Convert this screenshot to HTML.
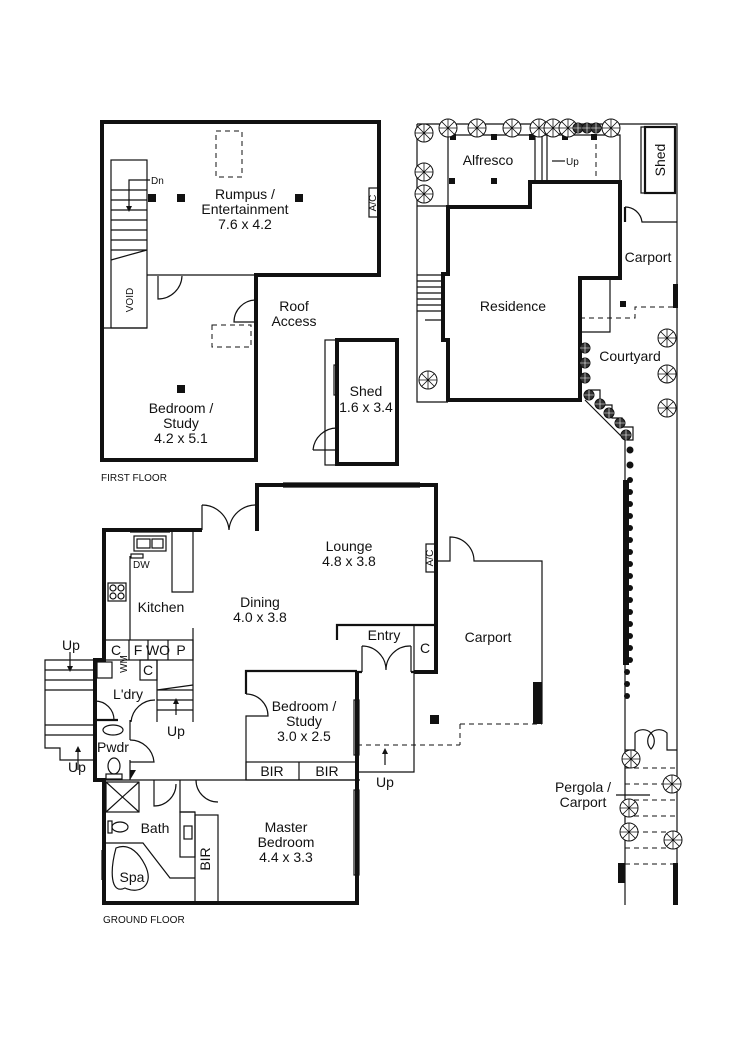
<!DOCTYPE html>
<html><head><meta charset="utf-8"><style>
html,body{margin:0;padding:0;background:#fff}
svg{display:block}
text{font-family:"Liberation Sans",Arial,sans-serif;fill:#111}
.r{font-size:14px;text-anchor:middle}
.s{font-size:10px}
.t{fill:none;stroke:#111;stroke-width:1.2}
.k{fill:none;stroke:#111;stroke-width:4}
.m{fill:none;stroke:#111;stroke-width:2.2}
.d{fill:none;stroke:#111;stroke-width:1;stroke-dasharray:5 4}
.tree{fill:#fff;stroke:#111;stroke-width:1}
</style></head><body>
<svg width="750" height="1061" viewBox="0 0 750 1061" xmlns="http://www.w3.org/2000/svg">
<defs>
<g id="tr"><circle r="9" class="tree"/><path d="M-9 0H9M0-9V9M-6.4-6.4L6.4 6.4M-6.4 6.4L6.4-6.4" stroke="#111" stroke-width="0.8"/></g>
<g id="ts"><circle r="5" fill="#333" stroke="#111"/><path d="M-5 0H5M0-5V5" stroke="#fff" stroke-width="0.6"/></g>
</defs>

<!-- FIRST FLOOR -->
<path class="k" d="M102 122H379V275H256V460H102Z"/>
<rect x="111" y="160" width="36" height="168" class="t"/>
<path class="t" d="M111 190H147M111 200H147M111 210H147M111 220H147M111 230H147M111 240H147M111 250H147M111 260L147 250"/>
<path class="t" d="M103 328H147M147 275H256"/>
<path class="t" d="M150 180H129V208"/><path d="M126 206L129 212L132 206Z" fill="#111"/>
<text x="151" y="184" class="s">Dn</text>
<text x="133" y="300" class="s" transform="rotate(-90 133 300)" text-anchor="middle">VOID</text>
<path class="t" d="M158 276V299A24 24 0 0 0 182 276"/>
<path class="t" d="M256 322H234A22 22 0 0 1 256 300"/>
<rect x="216" y="131" width="26" height="46" class="d"/>
<rect x="212" y="325" width="39" height="22" class="d"/>
<rect x="148" y="194" width="8" height="8" fill="#111"/>
<rect x="177" y="194" width="8" height="8" fill="#111"/>
<rect x="295" y="194" width="8" height="8" fill="#111"/>
<rect x="177" y="385" width="8" height="8" fill="#111"/>
<rect x="369" y="188" width="9" height="29" fill="#fff" class="t"/>
<text x="376" y="203" class="s" font-size="8" transform="rotate(-90 376 203)" text-anchor="middle">A/C</text>
<text class="r" x="245" y="199">Rumpus /</text>
<text class="r" x="245" y="214">Entertainment</text>
<text class="r" x="245" y="229">7.6 x 4.2</text>
<text class="r" x="181" y="413">Bedroom /</text>
<text class="r" x="181" y="428">Study</text>
<text class="r" x="181" y="443">4.2 x 5.1</text>
<text class="r" x="294" y="311">Roof</text>
<text class="r" x="294" y="326">Access</text>
<text x="101" y="481" class="s">FIRST FLOOR</text>
<!-- shed -->
<rect x="325" y="340" width="12" height="125" class="t"/>
<rect x="337" y="340" width="60" height="124" class="k"/>
<rect x="334" y="365" width="4" height="30" fill="#fff" class="t"/>
<path class="t" d="M313 450H337V428A24 24 0 0 0 313 450" fill="#fff"/>
<text class="r" x="366" y="396">Shed</text>
<text class="r" x="366" y="412">1.6 x 3.4</text>

<!-- GROUND FLOOR -->
<path class="k" d="M202 530H104V660H95V780H104V903H357V671"/>
<path class="k" d="M257 531V485H436V672H414"/>
<path class="t" d="M283 485H420" stroke="#fff" stroke-width="2"/>
<path class="t" d="M283 483H420M283 487H420"/>
<path class="t" d="M202 505V530M257 505V530M202 505A27 27 0 0 1 229 530A27 27 0 0 1 257 505"/>
<path class="m" d="M337 640V625H436"/>
<rect x="414" y="625" width="22" height="47" class="t"/>
<text x="425" y="653" class="r" font-size="13">C</text>
<path class="t" d="M362 672V646M411 672V646M362 646A24 24 0 0 1 386 670A24 24 0 0 1 411 646"/>
<path class="m" d="M357 672H362M411 672H414"/>
<text class="r" x="384" y="640">Entry</text>
<!-- kitchen -->
<path class="t" d="M130 530H170M130 532H170"/>
<rect x="134" y="536" width="32" height="15" class="t"/><rect x="137" y="539" width="13" height="9" class="t"/><rect x="152" y="539" width="11" height="9" class="t"/>
<rect x="131" y="554" width="12" height="4" class="t"/>
<text x="133" y="568" class="s" font-size="9">DW</text>
<path class="t" d="M130 556V640M172 530V592H193V530"/>
<rect x="108" y="583" width="18" height="18" class="t"/>
<circle cx="113" cy="588" r="3" class="t"/><circle cx="121" cy="588" r="3" class="t"/><circle cx="113" cy="596" r="3" class="t"/><circle cx="121" cy="596" r="3" class="t"/>
<text class="r" x="161" y="612">Kitchen</text>
<rect x="104" y="640" width="89" height="20" class="t"/>
<path class="t" d="M129 640V660M148 640V660M168 640V660M193 628V722"/>
<text x="116" y="655" class="r" font-size="12">C</text><text x="138" y="655" class="r" font-size="12">F</text>
<text x="158" y="655" class="r" font-size="10">WO</text><text x="181" y="655" class="r" font-size="12">P</text>
<!-- laundry -->
<rect x="97" y="662" width="15" height="16" class="t"/>
<text x="131" y="672" class="s" font-size="10" transform="rotate(-90 125 670)" text-anchor="middle">WM</text>
<rect x="140" y="660" width="17" height="20" class="t"/>
<text x="148" y="675" class="r" font-size="12">C</text>
<path class="t" d="M157 660V722M157 690H193M157 700H193M157 710H193M157 690L193 685"/>
<path class="t" d="M176 715V702"/><path d="M173 704L176 698L179 704Z" fill="#111"/>
<text x="176" y="736" class="r" font-size="10">Up</text>
<text class="r" x="128" y="699">L'dry</text>
<path class="t" d="M95 720H114A19 19 0 0 0 95 701"/>
<path class="t" d="M155 700A24 24 0 0 0 131 722V720"/>
<path class="m" d="M95 720H118"/>
<!-- powder -->
<path class="t" d="M130 720V740M130 760V780"/>
<path class="t" d="M130 740A24 24 0 0 1 154 762H130"/>
<ellipse cx="113" cy="730" rx="10" ry="5" class="t"/>
<ellipse cx="114" cy="766" rx="6" ry="8" class="t"/>
<rect x="106" y="774" width="16" height="5" class="t"/>
<text class="r" x="113" y="752">Pwdr</text>
<path d="M130 770H136L130 780Z" fill="#111"/>
<path class="t" d="M95 780H360"/>
<!-- outside stairs -->
<path class="t" d="M95 660H45V748H60V760H95M45 670H95M45 680H95M45 690H95M45 725H95M45 735H95"/>
<path class="t" d="M70 652V668M78 750V770"/><path d="M67 666L70 672L73 666Z" fill="#111"/><path d="M75 752L78 746L81 752Z" fill="#111"/>
<text x="71" y="650" class="r" font-size="10">Up</text>
<text x="77" y="772" class="r" font-size="10">Up</text>
<!-- bath -->
<rect x="106" y="782" width="33" height="30" class="t"/><path class="t" d="M106 782L139 812M139 782L106 812"/>
<path class="t" d="M154 780V806A22 22 0 0 0 176 784M180 780V812H195"/>
<path class="t" d="M218 802A22 22 0 0 1 196 780"/>
<ellipse cx="120" cy="827" rx="8" ry="5" class="t"/><rect x="108" y="821" width="4" height="12" class="t"/>
<text class="r" x="155" y="833">Bath</text>
<rect x="180" y="812" width="15" height="45" class="t"/><rect x="184" y="826" width="8" height="13" class="t"/>
<path class="t" d="M104 843H143L170 878H195"/>
<path class="t" d="M116 848C130 842 140 855 145 865C155 885 140 895 125 888C110 895 110 870 116 848Z"/>
<text class="r" x="132" y="882" font-size="12">Spa</text>
<path class="t" d="M102 850V880"/>
<rect x="195" y="815" width="23" height="88" class="t"/>
<text x="210" y="859" class="r" font-size="12" transform="rotate(-90 210 859)">BIR</text>
<!-- bed/study -->
<path class="m" d="M357 671H246V694"/><path class="t" d="M246 694A22 22 0 0 1 268 716H246V780"/>
<rect x="246" y="762" width="111" height="18" class="t"/><path class="t" d="M299 762V780"/>
<text x="272" y="776" class="r" font-size="12">BIR</text><text x="327" y="776" class="r" font-size="12">BIR</text>
<text class="r" x="304" y="711">Bedroom /</text><text class="r" x="304" y="726">Study</text><text class="r" x="304" y="741">3.0 x 2.5</text>
<rect x="354" y="700" width="5" height="55" fill="#fff" class="t"/>
<rect x="354" y="790" width="5" height="85" fill="#fff" class="t"/>
<text class="r" x="286" y="832">Master</text><text class="r" x="286" y="847">Bedroom</text><text class="r" x="286" y="862">4.4 x 3.3</text>
<text class="r" x="260" y="607">Dining</text><text class="r" x="260" y="622">4.0 x 3.8</text>
<text class="r" x="349" y="551">Lounge</text><text class="r" x="349" y="566">4.8 x 3.8</text>
<rect x="426" y="544" width="9" height="28" fill="#fff" class="t"/>
<text x="433" y="558" class="s" font-size="8" transform="rotate(-90 433 558)" text-anchor="middle">A/C</text>
<text x="103" y="923" class="s">GROUND FLOOR</text>
<!-- carport ground -->
<path class="t" d="M436 561H450V537A24 24 0 0 1 474 561H542V724"/>
<rect x="533" y="682" width="9" height="42" fill="#111"/>
<path class="d" d="M460 724H542M460 724V745M357 745H460"/>
<path class="t" d="M414 672V772H357"/>
<path class="t" d="M385 765V752"/><path d="M382 754L385 748L388 754Z" fill="#111"/>
<text x="385" y="787" class="r" font-size="10">Up</text>
<rect x="430" y="715" width="9" height="9" fill="#111"/>
<text class="r" x="488" y="642">Carport</text>

<!-- SITE PLAN -->
<path class="t" d="M417 124H677V905M417 124V402H448M417 206H448V135M448 135H620V182"/>
<path class="k" d="M448 207H530V182H620V278H580V400H448V340H443V274H448Z"/>
<path class="t" d="M535 135V182M542 135V182M547 135V182"/>
<path class="d" d="M596 135V182"/>
<path class="t" d="M565 161H552"/>
<text x="566" y="165" class="s" font-size="9">Up</text>
<text class="r" x="488" y="165">Alfresco</text>
<text class="r" x="513" y="311">Residence</text>
<rect x="450" y="134" width="6" height="6" fill="#111"/><rect x="491" y="134" width="6" height="6" fill="#111"/><rect x="529" y="134" width="6" height="6" fill="#111"/>
<rect x="562" y="134" width="6" height="6" fill="#111"/><rect x="591" y="134" width="6" height="6" fill="#111"/>
<rect x="449" y="178" width="6" height="6" fill="#111"/><rect x="491" y="178" width="6" height="6" fill="#111"/>
<path class="t" d="M417 275H443M417 281H443M417 287H443M417 293H443M417 299H443M417 305H443M417 311H443M425 320H443"/>
<rect x="641" y="127" width="4" height="66" class="t"/>
<rect x="645" y="127" width="30" height="66" class="m"/>
<text x="665" y="160" class="r" font-size="13" transform="rotate(-90 665 160)">Shed</text>
<path class="m" d="M625 207V222"/><path class="t" d="M625 207A17 17 0 0 1 642 222H677"/>
<text class="r" x="648" y="262">Carport</text>
<rect x="673" y="284" width="5" height="24" fill="#111"/>
<rect x="620" y="301" width="6" height="6" fill="#111"/>
<path class="t" d="M580 278H610V332H580"/>
<path class="d" d="M580 318H635V307H675"/>
<text class="r" x="630" y="361">Courtyard</text>
<path class="t" d="M585 400L625 440V780M588 390H600V405H612V418H622V427H633V440H627"/>
<path d="M623 480H629V665H623Z" fill="#111"/>
<path class="t" d="M625 780V905"/>
<!-- pergola -->
<path class="t" d="M625 750H635V733A10 10 0 0 1 651 749A10 10 0 0 1 667 733V750H677"/>
<path class="d" d="M625 768H677M625 784H677M625 800H677M625 816H677M625 832H677M625 848H677M625 864H677"/>
<rect x="618" y="863" width="7" height="20" fill="#111"/><rect x="673" y="863" width="5" height="42" fill="#111"/>
<path class="t" d="M616 795H650"/>
<text class="r" x="583" y="792">Pergola /</text><text class="r" x="583" y="807">Carport</text>
<!-- trees -->
<use href="#tr" x="424" y="133"/><use href="#tr" x="424" y="172"/><use href="#tr" x="424" y="194"/><use href="#tr" x="428" y="380"/>
<use href="#tr" x="448" y="128"/><use href="#tr" x="477" y="128"/><use href="#tr" x="512" y="128"/><use href="#tr" x="539" y="128"/>
<use href="#tr" x="553" y="128"/><use href="#tr" x="568" y="128"/><use href="#tr" x="611" y="128"/>
<use href="#ts" x="578" y="128"/><use href="#ts" x="587" y="128"/><use href="#ts" x="596" y="128"/>
<use href="#tr" x="667" y="338"/><use href="#tr" x="667" y="374"/><use href="#tr" x="667" y="408"/>
<use href="#ts" x="585" y="348"/><use href="#ts" x="585" y="363"/><use href="#ts" x="585" y="378"/>
<use href="#ts" x="589" y="395"/><use href="#ts" x="600" y="404"/><use href="#ts" x="609" y="413"/><use href="#ts" x="620" y="423"/><use href="#ts" x="626" y="435"/>
<g fill="#111">
<circle cx="630" cy="450" r="3.5"/><circle cx="630" cy="465" r="3.5"/><circle cx="630" cy="480" r="3"/><circle cx="630" cy="492" r="3"/><circle cx="630" cy="504" r="3"/><circle cx="630" cy="516" r="3"/><circle cx="630" cy="528" r="3"/><circle cx="630" cy="540" r="3"/><circle cx="630" cy="552" r="3"/><circle cx="630" cy="564" r="3"/><circle cx="630" cy="576" r="3"/><circle cx="630" cy="588" r="3"/><circle cx="630" cy="600" r="3"/><circle cx="630" cy="612" r="3"/><circle cx="630" cy="624" r="3"/><circle cx="630" cy="636" r="3"/><circle cx="630" cy="648" r="3"/><circle cx="630" cy="660" r="3"/><circle cx="627" cy="672" r="3"/><circle cx="627" cy="684" r="3"/><circle cx="627" cy="696" r="3"/>
</g>
<use href="#tr" x="631" y="759"/><use href="#tr" x="672" y="784"/><use href="#tr" x="629" y="808"/><use href="#tr" x="629" y="832"/><use href="#tr" x="673" y="840"/>
</svg>
</body></html>
